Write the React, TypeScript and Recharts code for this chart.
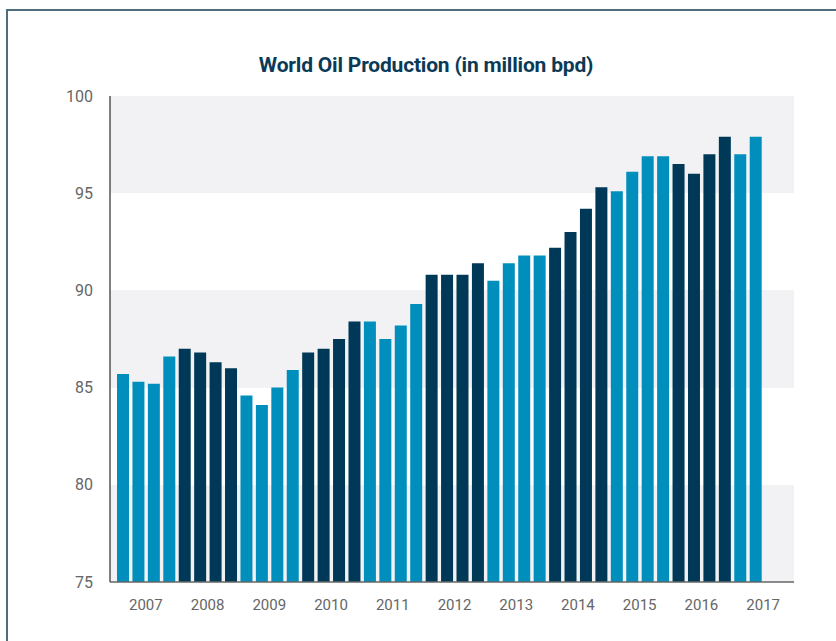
import { BarChart, Bar, Cell, XAxis, YAxis, CartesianGrid } from 'recharts'

const years = ['2007', '2008', '2009', '2010', '2011', '2012', '2013', '2014', '2015', '2016', '2017']

// quarterly world oil production, million bpd (2017 has only two quarters)
const production = [
  85.7, 85.3, 85.2, 86.6,
  87.0, 86.8, 86.3, 86.0,
  84.6, 84.1, 85.0, 85.9,
  86.8, 87.0, 87.5, 88.4,
  88.4, 87.5, 88.2, 89.3,
  90.8, 90.8, 90.8, 91.4,
  90.5, 91.4, 91.8, 91.8,
  92.2, 93.0, 94.2, 95.3,
  95.1, 96.1, 96.9, 96.9,
  96.5, 96.0, 97.0, 97.9,
  97.0, 97.9,
]

const yTicks = [75, 80, 85, 90, 95, 100]

const LIGHT = '#008fbc'
const DARK = '#003957'

const data = years.flatMap((year, yi) =>
  [0, 1, 2, 3].map((q) => ({
    slot: `${year}-Q${q + 1}`,
    year,
    value: production[yi * 4 + q] ?? null,
  }))
)

export default function App() {
  return (
    <div style={{ position: 'relative', width: 836, height: 641, background: '#fff', overflow: 'hidden' }}>
      <style>{'body{margin:0}'}</style>
      <div
        style={{
          position: 'absolute',
          left: 6,
          top: 9,
          width: 900,
          height: 700,
          borderLeft: '2px solid #4f6d7d',
          borderTop: '2px solid #4f6d7d',
        }}
      />
      <div
        style={{
          position: 'absolute',
          top: 53,
          left: 0,
          width: 852,
          textAlign: 'center',
          fontFamily: 'Roboto, sans-serif',
          fontWeight: 700,
          fontSize: 21,
          letterSpacing: -0.2,
          color: '#0b3a57',
        }}
      >
        World Oil Production (in million bpd)
      </div>
      <BarChart
        width={836}
        height={641}
        data={data}
        margin={{ top: 96, right: 42, bottom: 29, left: 50 }}
        barSize={12}
        style={{ position: 'absolute', left: 0, top: 0 }}
      >
        <CartesianGrid vertical={false} stroke="none" horizontalFill={['#f2f2f4', '#ffffff']} />
        <XAxis xAxisId="q" dataKey="slot" hide height={0} padding={{ left: 5, right: 0 }} />
        <XAxis
          xAxisId="year"
          dataKey="year"
          allowDuplicatedCategory={false}
          padding={{ left: 5, right: 0 }}
          height={30}
          tickLine={false}
          tickMargin={11}
          axisLine={{ stroke: '#666', strokeWidth: 1.5 }}
          tick={{ fill: '#666', fontSize: 15, fontFamily: 'Roboto, sans-serif' }}
        />
        <YAxis
          domain={[75, 100]}
          ticks={yTicks}
          width={60}
          tickLine={false}
          tickMargin={11}
          axisLine={{ stroke: '#555', strokeWidth: 1.5 }}
          tick={{ fill: '#666', fontSize: 16, fontFamily: 'Roboto, sans-serif' }}
        />
        <Bar xAxisId="q" dataKey="value" isAnimationActive={false}>
          {data.map((d) => (
            <Cell key={d.slot} fill={years.indexOf(d.year) % 2 === 0 ? LIGHT : DARK} />
          ))}
        </Bar>
      </BarChart>
    </div>
  )
}
